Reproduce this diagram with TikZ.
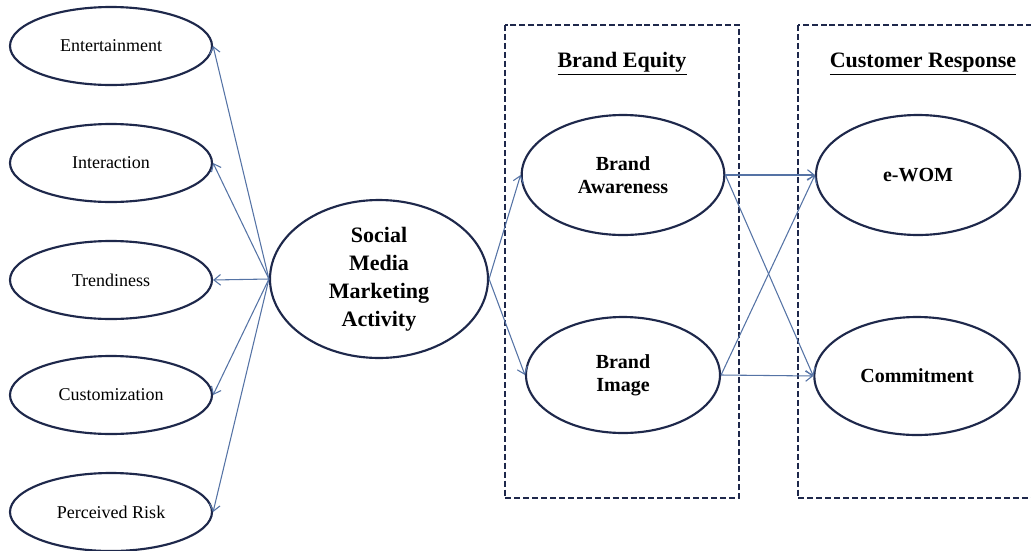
\documentclass[tikz,border=0pt]{standalone}
\usepackage{fontspec}
\setmainfont{Liberation Serif}
\usetikzlibrary{shapes.geometric,arrows.meta}
\definecolor{edge}{RGB}{30,40,75}
\definecolor{arr}{RGB}{85,115,165}
\tikzset{
  oval/.style={ellipse,draw=edge,line width=1.6pt,inner sep=0pt,align=center},
  smalloval/.style={oval,minimum width=151.5pt,minimum height=58.5pt,font=\fontsize{13.5}{16}\selectfont},
  bigtext/.style={font=\fontsize{15}{17.5}\selectfont\bfseries},
  conn/.style={draw=arr,line width=0.8pt,-{Straight Barb[length=5pt,width=8pt]}},
  group/.style={draw=edge,line width=1.8pt,dash pattern=on 4.5pt off 2.2pt},
  head/.style={font=\fontsize{16.5}{19}\selectfont\bfseries,inner sep=0pt}
}
\begin{document}
\begin{tikzpicture}[x=0.75pt,y=-0.75pt]
\useasboundingbox (0,0) rectangle (1031,550);
\clip (0,0) rectangle (1031,550);
% group boxes
\draw[group] (505,25) rectangle (739,498);
\draw[group] (798,25) rectangle (1045,498);
\node[head] (beh) at (622,64) {\underline{Brand Equity}};
\node[head] (crh) at (923,64) {\underline{Customer Response}};
% left ellipses
\node[smalloval] (ent) at (111,46) {Entertainment};
\node[smalloval] (int) at (111,163) {Interaction};
\node[smalloval] (tre) at (111,280) {Trendiness};
\node[smalloval] (cus) at (111,395) {Customization};
\node[smalloval] (per) at (111,512) {Perceived Risk};
% centre
\node[oval,minimum width=163.5pt,minimum height=118.5pt,font=\fontsize{16.5}{21}\selectfont\bfseries] (smm) at (379,279) {Social\\Media\\Marketing\\Activity};
% brand equity
\node[oval,bigtext,minimum width=152pt,minimum height=90pt] (ba) at (623,175) {Brand\\Awareness};
\node[oval,bigtext,minimum width=145.5pt,minimum height=87pt] (bi) at (623,375) {Brand\\Image};
% customer response
\node[oval,bigtext,minimum width=153pt,minimum height=90pt] (ew) at (918,175) {e-WOM};
\node[oval,bigtext,minimum width=154pt,minimum height=88.5pt] (co) at (917,376) {Commitment};
% connectors
\draw[conn] (smm.west) -- (ent.east);
\draw[conn] (smm.west) -- (int.east);
\draw[conn] (smm.west) -- (tre.east);
\draw[conn] (smm.west) -- (cus.east);
\draw[conn] (smm.west) -- (per.east);
\draw[conn] (smm.east) -- (ba.west);
\draw[conn] (smm.east) -- (bi.west);
\draw[conn] (ba.east) -- (ew.west);
\draw[conn] (ba.east) -- (co.west);
\draw[conn] (bi.east) -- (ew.west);
\draw[conn] (bi.east) -- (co.west);
\end{tikzpicture}
\end{document}
